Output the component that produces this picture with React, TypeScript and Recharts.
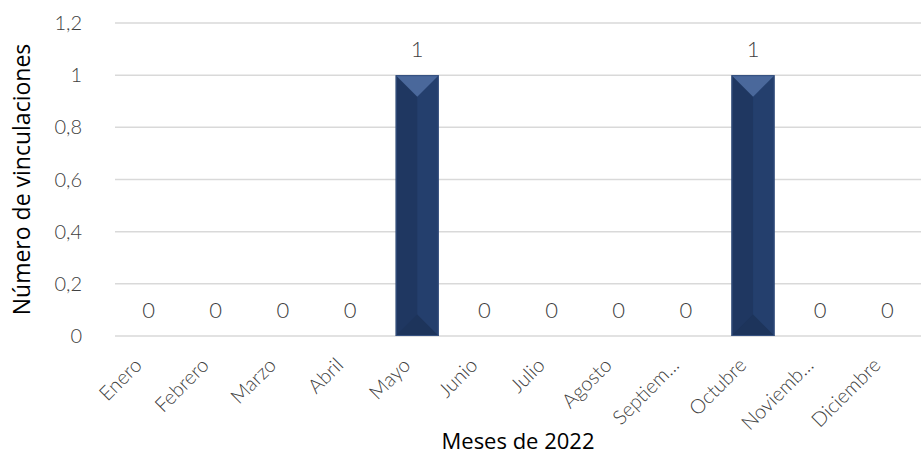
import React from 'react';
import { BarChart, Bar, XAxis, YAxis, CartesianGrid, LabelList, Label } from 'recharts';

const months = ['Enero', 'Febrero', 'Marzo', 'Abril', 'Mayo', 'Junio', 'Julio', 'Agosto', 'Septiem...', 'Octubre', 'Noviemb...', 'Diciembre'];
const values = [0, 0, 0, 0, 1, 0, 0, 0, 0, 1, 0, 0];
const yTicks = [0, 0.2, 0.4, 0.6, 0.8, 1, 1.2];

const data = months.map((m, i) => ({ month: m, value: values[i] }));

const tickFont = "Lato, 'Open Sans', sans-serif";
const titleFont = "'Liberation Sans Narrow', 'Open Sans', sans-serif";

const BevelBar = (props: any) => {
  const { x, y, width, height } = props;
  if (!height || height <= 0) return null;
  const b = Math.min(width / 2, 22);
  return (
    <g>
      <rect x={x} y={y} width={width} height={height} fill="#243F6D" />
      <rect x={x} y={y} width={width / 2} height={height} fill="#1F3761" />
      <polygon points={`${x},${y} ${x + width},${y} ${x + width / 2},${y + b}`} fill="#4A689B" />
      <polygon points={`${x},${y + height} ${x + width},${y + height} ${x + width / 2},${y + height - b}`} fill="#1D345B" />
      <rect x={x + 0.5} y={y + 0.5} width={width - 1} height={height - 1} fill="none" stroke="#35507F" strokeWidth={1} />
    </g>
  );
};

const XTick = (props: any) => {
  const { x, y, payload } = props;
  return (
    <g transform={`translate(${x - 14},${y + 14})`}>
      <text transform="rotate(-45)" textAnchor="end" dy={12} fill="#404040" fontSize={20} fontFamily={tickFont} fontWeight={300}>
        {payload.value}
      </text>
    </g>
  );
};

const fmt = (v: number) => String(v).replace('.', ',');

export default function App() {
  return (
    <div style={{ position: 'absolute', left: 0, top: 0, width: 921, height: 458, background: '#fff' }}>
      <BarChart width={921} height={458} data={data} margin={{ top: 23, right: 0, bottom: 0, left: 0 }} barCategoryGap="18%">
        <CartesianGrid vertical={false} stroke="#d9d9d9" strokeWidth={1.5} />
        <XAxis
          dataKey="month"
          axisLine={false}
          tickLine={false}
          interval={0}
          height={122}
          tick={<XTick />}
        >
          <Label value="Meses de 2022" position="insideBottom" offset={9} fill="#000" fontSize={22} fontFamily={titleFont} />
        </XAxis>
        <YAxis
          domain={[0, 1.2]}
          ticks={yTicks}
          tickFormatter={fmt}
          axisLine={false}
          tickLine={false}
          tickSize={0}
          tickMargin={33}
          width={115}
          tick={{ fill: '#404040', fontSize: 20, fontFamily: tickFont, fontWeight: 300 }}
        >
          <Label value="Número de vinculaciones" angle={-90} position="insideLeft" offset={22} fill="#000" fontSize={23} fontFamily={titleFont} style={{ textAnchor: 'middle' }} />
        </YAxis>
        <Bar dataKey="value" shape={<BevelBar />} isAnimationActive={false}>
          <LabelList dataKey="value" position="top" offset={18} fill="#404040" fontSize={22} fontFamily={tickFont} fontWeight={300} />
        </Bar>
      </BarChart>
    </div>
  );
}
